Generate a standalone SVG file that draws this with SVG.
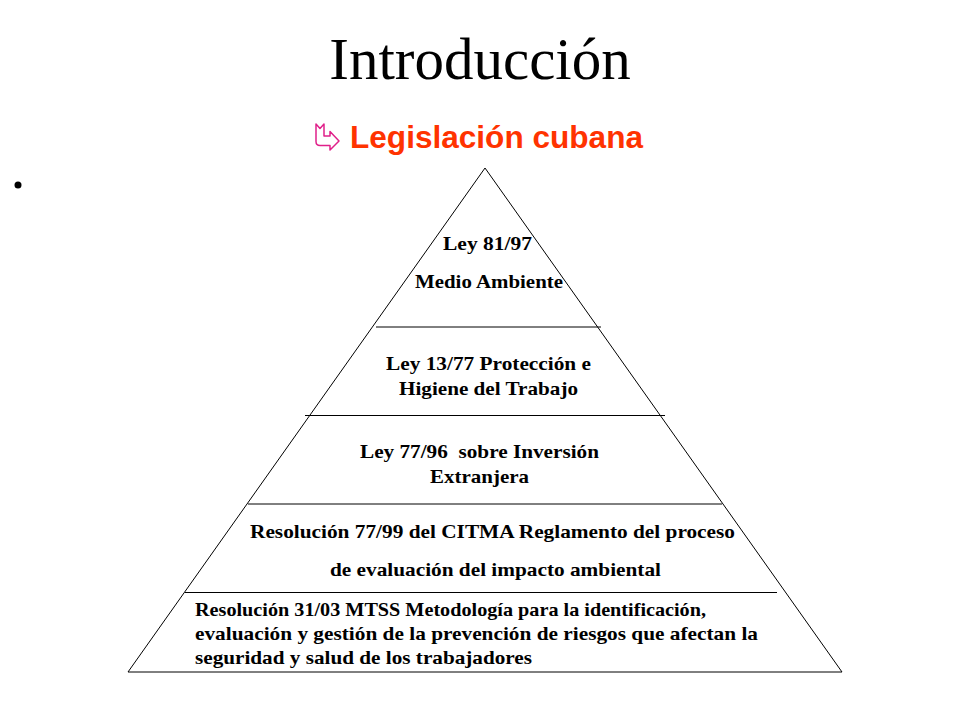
<svg xmlns="http://www.w3.org/2000/svg" width="960" height="720" viewBox="0 0 960 720">
<style>
.title{font-family:"Liberation Serif","Times New Roman",serif;font-size:59px;fill:#000}
.sub{font-family:"Liberation Sans",Arial,sans-serif;font-size:31.5px;font-weight:bold;fill:#FF3300}
.t{font-family:"Liberation Serif","Times New Roman",serif;font-size:19px;font-weight:bold;fill:#000}
.ln{stroke:#000;stroke-width:1;fill:none}
</style>
<rect width="960" height="720" fill="#fff"/>
<g id="header">
<text class="title" x="480" y="79" text-anchor="middle">Introducción</text>
<path d="M316,124 L320,128.5 L324,124 L324,136 L330,136 L330,131.5 L339,141 L330,150 L330,145.5 L320,145.5 Q316,145.5 316,141.5 Z" fill="none" stroke="#E0208A" stroke-width="1.5" stroke-linejoin="round"/>
<text class="sub" x="350" y="148" textLength="293" lengthAdjust="spacingAndGlyphs">Legislación cubana</text>
<circle cx="18" cy="185" r="3.5" fill="#000"/>
</g>
<g id="connectors">
<path class="ln" d="M485,168 L128,672 L842,672 Z"/>
<line class="ln" x1="376" y1="327" x2="601" y2="327"/>
<line class="ln" x1="305" y1="415.5" x2="665" y2="415.5"/>
<line class="ln" x1="248" y1="504" x2="722" y2="504"/>
<line class="ln" x1="185" y1="592.5" x2="777" y2="592.5"/>
</g>
<g id="level1">
<text class="t" x="443" y="250" textLength="89" lengthAdjust="spacingAndGlyphs">Ley 81/97</text>
<text class="t" x="415" y="288" textLength="148" lengthAdjust="spacingAndGlyphs">Medio Ambiente</text>
</g>
<g id="level2">
<text class="t" x="386" y="370" textLength="205" lengthAdjust="spacingAndGlyphs">Ley 13/77 Protección e</text>
<text class="t" x="399" y="395" textLength="179" lengthAdjust="spacingAndGlyphs">Higiene del Trabajo</text>
</g>
<g id="level3">
<text class="t" x="360" y="458" textLength="239" lengthAdjust="spacingAndGlyphs" xml:space="preserve">Ley 77/96  sobre Inversión</text>
<text class="t" x="430" y="483" textLength="99" lengthAdjust="spacingAndGlyphs">Extranjera</text>
</g>
<g id="level4">
<text class="t" x="250" y="538" textLength="485" lengthAdjust="spacingAndGlyphs">Resolución 77/99 del CITMA Reglamento del proceso</text>
<text class="t" x="330" y="576" textLength="331" lengthAdjust="spacingAndGlyphs">de evaluación del impacto ambiental</text>
</g>
<g id="level5">
<text class="t" x="195" y="616" textLength="511" lengthAdjust="spacingAndGlyphs">Resolución 31/03 MTSS Metodología para la identificación,</text>
<text class="t" x="195" y="640" textLength="563" lengthAdjust="spacingAndGlyphs">evaluación y gestión de la prevención de riesgos que afectan la</text>
<text class="t" x="195" y="664" textLength="337" lengthAdjust="spacingAndGlyphs">seguridad y salud de los trabajadores</text>
</g>
</svg>
